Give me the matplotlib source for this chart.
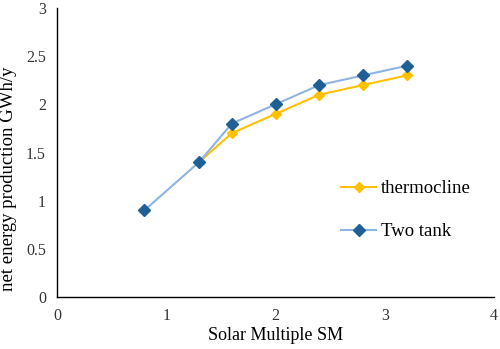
import matplotlib
matplotlib.use('Agg')
import matplotlib.pyplot as plt

plt.rcParams['font.family'] = ['Liberation Serif', 'DejaVu Serif']

# data
sm_thermo = [1.3, 1.6, 2.0, 2.4, 2.8, 3.2]
e_thermo = [1.4, 1.7, 1.9, 2.1, 2.2, 2.3]
sm_two = [0.8, 1.3, 1.6, 2.0, 2.4, 2.8, 3.2]
e_two = [0.9, 1.4, 1.8, 2.0, 2.2, 2.3, 2.4]

fig = plt.figure(figsize=(5, 3.49), dpi=100)
ax = fig.add_axes([0.114, 0.149, 0.874, 0.828])

ax.plot(sm_thermo, e_thermo, color='#FFC000', marker='D', markersize=5,
        linewidth=1.5, label='thermocline')
ax.plot(sm_two, e_two, color='#8DB4E2', marker='D', markersize=6,
        markerfacecolor='#1F5F96', markeredgecolor='#1F5F96',
        linewidth=1.5, label='Two tank')

ax.set_xlim(0, 4)
ax.set_ylim(0, 3)
ax.set_xticks([0, 1, 2, 3, 4])
ax.set_yticks([0, 0.5, 1, 1.5, 2, 2.5, 3])
ax.set_yticklabels(['0', '0.5', '1', '1.5', '2', '2.5', '3'])
ax.tick_params(length=0, labelsize=11.5, colors='#333333', pad=8)

ax.spines['top'].set_visible(False)
ax.spines['right'].set_visible(False)
ax.spines['left'].set_linewidth(1.0)
ax.spines['bottom'].set_linewidth(1.0)

ax.set_xlabel('Solar Multiple SM', fontsize=13, labelpad=2)
ax.set_ylabel('net energy production GWh/y', fontsize=13.5)
ax.yaxis.set_label_coords(-0.092, 0.41)

ax.legend(loc='center left', bbox_to_anchor=(0.65, 0.30), frameon=False,
          fontsize=13.5, labelspacing=1.38, handlelength=1.87,
          handletextpad=0.25, borderpad=0, borderaxespad=0)

plt.savefig('out.png')
